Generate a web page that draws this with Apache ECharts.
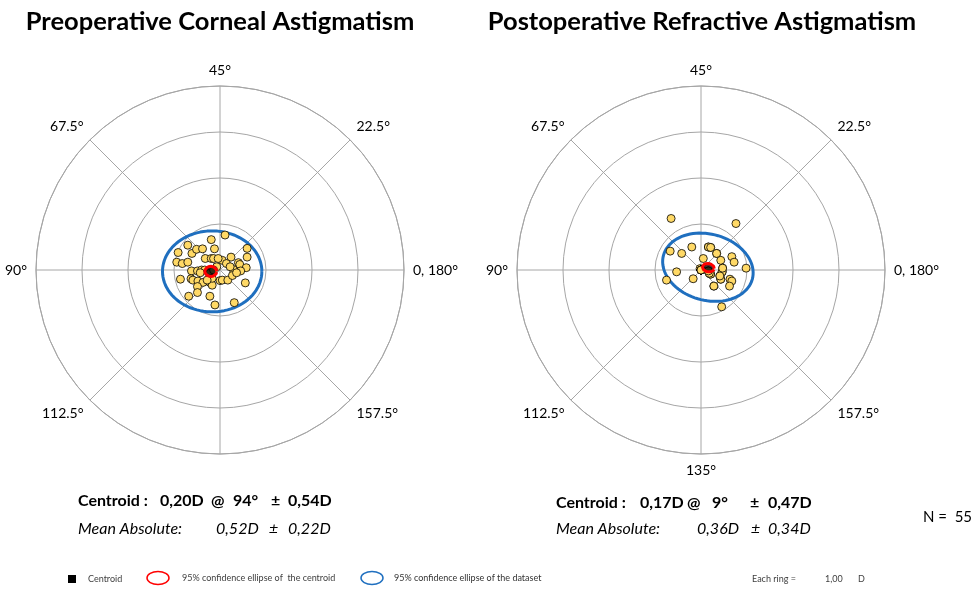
<!DOCTYPE html>
<html>
<head>
<meta charset="utf-8">
<script src="https://cdn.jsdelivr.net/npm/echarts@6/dist/echarts.min.js"></script>
<style>
  html, body { margin: 0; padding: 0; background: #fff; }
  #chart { width: 974px; height: 591px; }
</style>
</head>
<body>
<div id="chart"></div>
<script>
// astigmatism of each eye as double-angle components, dioptres (x = D*cos2θ, y = D*sin2θ)
const preX = [0.11, -0.19, -0.70, -0.61, -0.51, -0.38, -0.12, -0.91, 0.59, 0.59,
  -0.94, -0.82, -0.70, -0.32, -0.19, -0.14, 0.05, 0.24, 0.14, 0.40,
  0.43, 0.29, 0.57, 0.45, -0.62, -0.49, -0.40, -0.33, -0.86, -0.63,
  -0.59, -0.48, -0.37, -0.22, -0.17, 0.00, 0.05, 0.17, 0.27, 0.55,
  -0.49, -0.49, -0.68, -0.22, -0.11, 0.31, -0.22, -0.17, -0.07, 0.36,
  -0.43, -0.28, -0.04, 0.22, -0.14];
const preY = [0.76, 0.66, 0.54, 0.36, 0.45, 0.46, 0.46, 0.38, 0.47, 0.28,
  0.17, 0.14, 0.17, 0.25, 0.25, 0.25, 0.21, 0.28, 0.14, 0.16,
  0.12, 0.01, 0.05, -0.02, -0.02, -0.02, 0.00, 0.00, -0.20, -0.19,
  -0.22, -0.24, -0.27, -0.27, -0.33, -0.23, -0.22, -0.22, -0.12, -0.28,
  -0.36, -0.49, -0.57, -0.57, -0.76, -0.71, -0.07, -0.18, 0.07, -0.06,
  -0.06, -0.22, 0.25, 0.07, 0.00];

const postX = [-0.65, 0.76, -0.67, -0.42, -0.20, 0.16, 0.21, 0.34, 0.05, 0.43,
  0.67, 0.72, 0.47, 0.46, 0.98, -0.02, -0.53, -0.75, -0.17, 0.41,
  0.43, 0.63, 0.67, 0.62, 0.28, 0.45, 0.21, 0.18, 0.16,
  0.46, 0.43, 0.21, 0.18, 0.16, 0.16, 0.34, 0.41, 0.21, 0.47, 0.28,
  0, 0, 0, 0, 0, 0, 0, 0, 0, 0, 0, 0, 0, 0, 0];
const postY = [1.12, 1.01, 0.41, 0.36, 0.50, 0.50, 0.49, 0.36, 0.25, 0.21,
  0.29, 0.17, 0.04, -0.04, 0.04, 0.03, -0.04, -0.22, -0.19, -0.13,
  -0.20, -0.20, -0.24, -0.35, -0.35, -0.80, -0.09, -0.07, -0.02,
  -0.04, -0.20, -0.09, -0.07, -0.02, 0.50, 0.36, -0.13, 0.49, 0.04, -0.35,
  0, 0, 0, 0, 0, 0, 0, 0, 0, 0, 0, 0, 0, 0, 0];

// centroids: [dioptres, axis°]
const preCentroid = [0.20, 94];
const postCentroid = [0.17, 9];

// 95% ellipses: [centre x, centre y, semi-axis a, semi-axis b, tilt°] in double-angle dioptres
const preCentroidEllipse = [-0.20, -0.03, 0.13, 0.11, 0];
const preDataEllipse = [-0.17, -0.03, 1.08, 0.88, 0];
const postCentroidEllipse = [0.16, 0.05, 0.13, 0.09, -10];
const postDataEllipse = [0.15, 0.06, 1.00, 0.72, -15];

// labels every 45° of the plot, counter-clockwise from the right
const preAngleLabels = ['0, 180°', '22.5°', '45°', '67.5°', '90°', '112.5°', '', '157.5°'];
const postAngleLabels = ['0, 180°', '22.5°', '45°', '67.5°', '90°', '112.5°', '135°', '157.5°'];

// centroid text: magnitude, axis, sd, mean absolute, sd
const preStats = ['0,20D', '94°', '0,54D', '0,52D', '0,22D'];
const postStats = ['0,17D', '9°', '0,47D', '0,36D', '0,34D'];
const sampleSize = 55;
const ringStep = '1,00';

const FONT = "Lato, 'Open Sans', sans-serif";
const GRID = '#a6a6a6';

function toPolar(x, y) {
  return [Math.hypot(x, y), (Math.atan2(y, x) * 180 / Math.PI + 360) % 360];
}

function pointsOf(xs, ys) {
  return xs.map((x, i) => toPolar(x, ys[i]));
}

function ellipseOutline(e) {
  const [cx, cy, a, b, tilt] = e;
  const p = tilt * Math.PI / 180;
  const out = [];
  for (let i = 0; i <= 90; i++) {
    const t = i * 4 * Math.PI / 180;
    const x = cx + a * Math.cos(t) * Math.cos(p) - b * Math.sin(t) * Math.sin(p);
    const y = cy + a * Math.cos(t) * Math.sin(p) + b * Math.sin(t) * Math.cos(p);
    out.push(toPolar(x, y));
  }
  return out;
}

const chart = echarts.init(document.getElementById('chart'));

const angleAxis = (idx, labels) => ({
  polarIndex: idx,
  type: 'value',
  min: 0,
  max: 360,
  interval: 45,
  startAngle: 0,
  clockwise: false,
  axisLine: { lineStyle: { color: GRID, width: 1 } },
  axisTick: { show: false },
  splitLine: { lineStyle: { color: GRID, width: 1 } },
  axisLabel: {
    margin: 9,
    color: '#000',
    fontSize: 14,
    fontFamily: FONT,
    formatter: v => (v >= 360 ? '' : labels[Math.round(v / 45)])
  }
});

const radiusAxis = idx => ({
  polarIndex: idx,
  type: 'value',
  min: 0,
  max: 4,
  interval: 1,
  axisLine: { show: false },
  axisTick: { show: false },
  axisLabel: { show: false },
  splitLine: { show: true, lineStyle: { color: GRID, width: 1 } }
});

const ellipseLine = (idx, e, color, w, z) => ({
  type: 'line',
  coordinateSystem: 'polar',
  polarIndex: idx,
  data: ellipseOutline(e),
  symbol: 'none',
  smooth: false,
  silent: true,
  z: z,
  lineStyle: { color: color, width: w }
});

const dots = (idx, xs, ys) => ({
  type: 'scatter',
  coordinateSystem: 'polar',
  polarIndex: idx,
  data: pointsOf(xs, ys),
  symbolSize: 8,
  z: 3,
  itemStyle: { color: '#ffd966', borderColor: '#000', borderWidth: 0.8, opacity: 1 }
});

const centroidDot = (idx, c) => ({
  type: 'scatter',
  coordinateSystem: 'polar',
  polarIndex: idx,
  data: [[c[0], 2 * c[1]]],
  symbolSize: 10,
  z: 4,
  itemStyle: { color: '#000' }
});

function txt(text, x, y, size, weight, style, extra) {
  return Object.assign({
    type: 'text',
    x: x,
    y: y,
    style: {
      text: text,
      font: (style || 'normal') + ' ' + (weight || 'normal') + ' ' + size + 'px ' + FONT,
      fill: '#000',
      align: 'left',
      textAlign: 'left',
      verticalAlign: 'middle',
      textVerticalAlign: 'middle'
    }
  }, extra || {});
}

function statsBlock(s, x0, y1, y2, cols) {
  return [
    txt('Centroid :', x0, y1, 16, 'bold'),
    txt(s[0], cols[0], y1, 16, 'bold'),
    txt('@', cols[1], y1, 16, 'bold'),
    txt(s[1], cols[2], y1, 16, 'bold'),
    txt('±', cols[3], y1, 16, 'bold'),
    txt(s[2], cols[4], y1, 16, 'bold'),
    txt('Mean Absolute:', x0, y2, 16, 'normal', 'italic'),
    txt(s[3], cols[5], y2, 16, 'normal', 'italic'),
    txt('±', cols[6], y2, 16, 'normal', 'italic'),
    txt(s[4], cols[7], y2, 16, 'normal', 'italic')
  ];
}

function centred(text, x, y, size) {
  const t = txt(text, x, y, size, 'bold');
  t.style.align = 'center';
  t.style.textAlign = 'center';
  return t;
}

const legendFont = '9px ' + FONT;

chart.setOption({
  animation: false,
  backgroundColor: '#fff',
  polar: [
    { center: [220, 270], radius: 184 },
    { center: [701, 270], radius: 184 }
  ],
  angleAxis: [angleAxis(0, preAngleLabels), angleAxis(1, postAngleLabels)],
  radiusAxis: [radiusAxis(0), radiusAxis(1)],
  series: [
    ellipseLine(0, preDataEllipse, '#1f6fbf', 3, 2),
    dots(0, preX, preY),
    centroidDot(0, preCentroid),
    ellipseLine(0, preCentroidEllipse, '#ff0000', 3, 5),
    ellipseLine(1, postDataEllipse, '#1f6fbf', 3, 2),
    dots(1, postX, postY),
    centroidDot(1, postCentroid),
    ellipseLine(1, postCentroidEllipse, '#ff0000', 3, 5)
  ],
  graphic: [
    centred('Preoperative Corneal Astigmatism', 220, 22, 25.5),
    centred('Postoperative Refractive Astigmatism', 702, 22, 25.5),
    ...statsBlock(preStats, 78, 501, 529, [160, 211, 233, 271, 288, 216, 269, 288]),
    ...statsBlock(postStats, 556, 503, 529, [640, 687, 712, 750, 768, 697, 751, 768]),
    txt('N =  ' + sampleSize, 923, 517, 15, 'normal'),
    // legend row
    { type: 'rect', shape: { x: 68, y: 575, width: 8, height: 8 }, style: { fill: '#000' } },
    { type: 'text', x: 88, y: 579, style: { text: 'Centroid', font: legendFont, fill: '#404040', verticalAlign: 'middle', textVerticalAlign: 'middle' } },
    { type: 'ellipse', shape: { cx: 158, cy: 578, rx: 11, ry: 6.5 }, style: { fill: 'none', stroke: '#ff0000', lineWidth: 1.5 } },
    { type: 'text', x: 182, y: 578, style: { text: '95% confidence ellipse of  the centroid', font: legendFont, fill: '#404040', verticalAlign: 'middle', textVerticalAlign: 'middle' } },
    { type: 'ellipse', shape: { cx: 372, cy: 578, rx: 11, ry: 6.5 }, style: { fill: 'none', stroke: '#1f6fbf', lineWidth: 1.5 } },
    { type: 'text', x: 394, y: 578, style: { text: '95% confidence ellipse of the dataset', font: legendFont, fill: '#333', verticalAlign: 'middle', textVerticalAlign: 'middle' } },
    { type: 'text', x: 752, y: 579, style: { text: 'Each ring =', font: legendFont, fill: '#404040', verticalAlign: 'middle', textVerticalAlign: 'middle' } },
    { type: 'text', x: 825, y: 579, style: { text: ringStep, font: legendFont, fill: '#404040', verticalAlign: 'middle', textVerticalAlign: 'middle' } },
    { type: 'text', x: 858, y: 579, style: { text: 'D', font: legendFont, fill: '#404040', verticalAlign: 'middle', textVerticalAlign: 'middle' } }
  ]
});

window.onresize = function () {
  chart.resize();
};
</script>
</body>
</html>
